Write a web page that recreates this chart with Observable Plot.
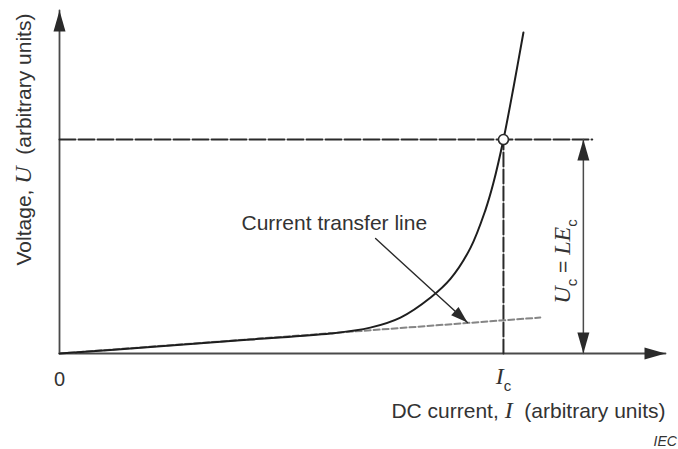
<!DOCTYPE html>
<html>
<head>
<meta charset="utf-8">
<script src="https://cdn.jsdelivr.net/npm/d3@7"></script>
<script src="https://cdn.jsdelivr.net/npm/@observablehq/plot@0.6"></script>
<style>
  html, body { margin: 0; padding: 0; background: #fff; }
  svg { display: block; }
</style>
</head>
<body>
<div id="chart"></div>
<script>
// ---- data (arbitrary units: I normalised to Ic = 1, U normalised to Uc = 1) ----
const xMax = 1.365;          // end of current axis (arrow tip)
const yMax = 1.603;          // end of voltage axis (arrow tip)
const Ic = 1.0;              // critical current
const Uc = 1.0;              // critical voltage
const hLineEnd = 1.2;        // end of horizontal dash line
const dimX = 1.18;           // position of Uc = LEc dimension arrow

// measured U–I characteristic
const curveI = [0, 0.205, 0.430, 0.610, 0.700, 0.768, 0.836, 0.881, 0.926, 0.959, 0.977, 1.0, 1.023, 1.045];
const curveU = [0, 0.030, 0.065, 0.093, 0.121, 0.168, 0.262, 0.350, 0.495, 0.668, 0.794, 1.0, 1.248, 1.50];

// current transfer line (straight line through origin)
const transferI = [0, 1.083];
const transferU = [0, 0.168];

// leader arrow from label to transfer line
const leaderI = [0.712, 0.919];
const leaderU = [0.537, 0.145];

// text labels
const yLabel = "Voltage, U  (arbitrary units)";
const xLabel = "DC current, I  (arbitrary units)";
const zeroLabel = "0";
const icLabel = "Ic";
const ucLabel = "Uc = LEc";
const leaderLabel = "Current transfer line";
const sourceLabel = "IEC";

// ---- build tables ----
const curve = curveI.map((x, i) => ({x, y: curveU[i]}));
const transfer = transferI.map((x, i) => ({x, y: transferU[i]}));
const leader = leaderI.map((x, i) => ({x, y: leaderU[i]}));

// arrowhead symbol: tip at origin, pointing up
const head = (L, W) => ({
  draw(ctx) { ctx.moveTo(0, 0); ctx.lineTo(W, L); ctx.lineTo(-W, L); ctx.closePath(); }
});
const bigHead = head(21, 6);
const smallHead = head(17, 5.5);

const sans = "'Liberation Sans', Arial, Helvetica, sans-serif";
const ink = "#2a2a2a";
const axisInk = "#4a4a4a";

const plot = Plot.plot({
  width: 678,
  height: 449,
  marginLeft: 59,
  marginRight: 13,
  marginTop: 10,
  marginBottom: 96,
  x: {domain: [0, xMax], axis: null},
  y: {domain: [0, yMax], axis: null},
  style: {fontFamily: sans, background: "#fff", overflow: "visible"},
  marks: [
    // axes
    Plot.line([{x: 0, y: yMax}, {x: 0, y: 0}, {x: xMax, y: 0}], {x: "x", y: "y", stroke: axisInk, strokeWidth: 1.8}),
    Plot.dot([{x: 0, y: yMax}], {x: "x", y: "y", symbol: bigHead, fill: ink, stroke: "none", rotate: 0}),
    Plot.dot([{x: xMax, y: 0}], {x: "x", y: "y", symbol: bigHead, fill: ink, stroke: "none", rotate: 90}),
    // dashed construction lines
    Plot.line([{x: 0, y: Uc}, {x: hLineEnd, y: Uc}], {x: "x", y: "y", stroke: ink, strokeWidth: 2, strokeDasharray: "16,3"}),
    Plot.line([{x: Ic, y: 0}, {x: Ic, y: Uc}], {x: "x", y: "y", stroke: ink, strokeWidth: 2, strokeDasharray: "14,3"}),
    // current transfer line
    Plot.line(transfer, {x: "x", y: "y", stroke: "#858585", strokeWidth: 2, strokeDasharray: "6,3"}),
    // U-I curve
    Plot.line(curve, {x: "x", y: "y", curve: "catmull-rom", stroke: "#1e1e1e", strokeWidth: 2}),
    // dimension arrow Uc = LEc
    Plot.line([{x: dimX, y: 0}, {x: dimX, y: Uc}], {x: "x", y: "y", stroke: axisInk, strokeWidth: 1.5}),
    Plot.dot([{x: dimX, y: Uc}], {x: "x", y: "y", symbol: bigHead, fill: ink, stroke: "none", rotate: 0}),
    Plot.dot([{x: dimX, y: 0}], {x: "x", y: "y", symbol: bigHead, fill: ink, stroke: "none", rotate: 180}),
    // leader arrow
    Plot.line(leader, {x: "x", y: "y", stroke: ink, strokeWidth: 1.4}),
    Plot.dot([leader[1]], {x: "x", y: "y", symbol: smallHead, fill: ink, stroke: "none", rotate: 132}),
    // critical point
    Plot.dot([{x: Ic, y: Uc}], {x: "x", y: "y", r: 5, fill: "#fff", stroke: ink, strokeWidth: 1.6}),
    // labels
    Plot.text([yLabel], {x: 0, y: Uc, text: d => d, rotate: -90, dx: -35, fontSize: 21, fill: "#333"}),
    Plot.text([xLabel], {x: xMax, y: 0, text: d => d, textAnchor: "end", dy: 58, fontSize: 21, fill: "#333"}),
    Plot.text([zeroLabel], {x: 0, y: 0, text: d => d, dy: 26, fontSize: 20, fill: "#333"}),
    Plot.text([icLabel], {x: Ic, y: 0, text: d => d, dy: 24, fontSize: 21, fill: "#333"}),
    Plot.text([ucLabel], {x: dimX, y: 0.43, text: d => d, rotate: -90, dx: -20, fontSize: 21, fill: "#333"}),
    Plot.text([leaderLabel], {x: 0.619, y: 0.607, text: d => d, fontSize: 21, fill: "#333"}),
    Plot.text([sourceLabel], {x: xMax, y: 0, text: d => d, textAnchor: "start", dx: -12, dy: 88, fontSize: 14, fontStyle: "italic", fill: "#333"})
  ]
});

// rich text: math italics and subscripts
const serif = "'Liberation Serif', 'Times New Roman', serif";
const rich = {
  [yLabel]: [["Voltage, ", "s"], ["U", "m"], ["  (arbitrary units)", "s"]],
  [xLabel]: [["DC current, ", "s"], ["I", "m"], ["  (arbitrary units)", "s"]],
  [icLabel]: [["I", "m"], ["c", "sub"]],
  [ucLabel]: [["U", "m"], ["c", "sub"], [" = ", "s-up"], ["LE", "m"], ["c", "sub"]]
};
d3.select(plot).selectAll("text").each(function () {
  const segs = rich[this.textContent];
  if (!segs) return;
  const t = d3.select(this);
  t.text(null).style("white-space", "pre");
  for (const [str, kind] of segs) {
    const ts = t.append("tspan").text(str).style("white-space", "pre");
    if (kind === "m") ts.attr("font-family", serif).attr("font-style", "italic").attr("font-size", 24);
    if (kind === "sub") ts.attr("font-size", 15).attr("dy", 7);
    if (kind === "s-up") ts.attr("dy", -7);
  }
});

document.getElementById("chart").appendChild(plot);
</script>
</body>
</html>
